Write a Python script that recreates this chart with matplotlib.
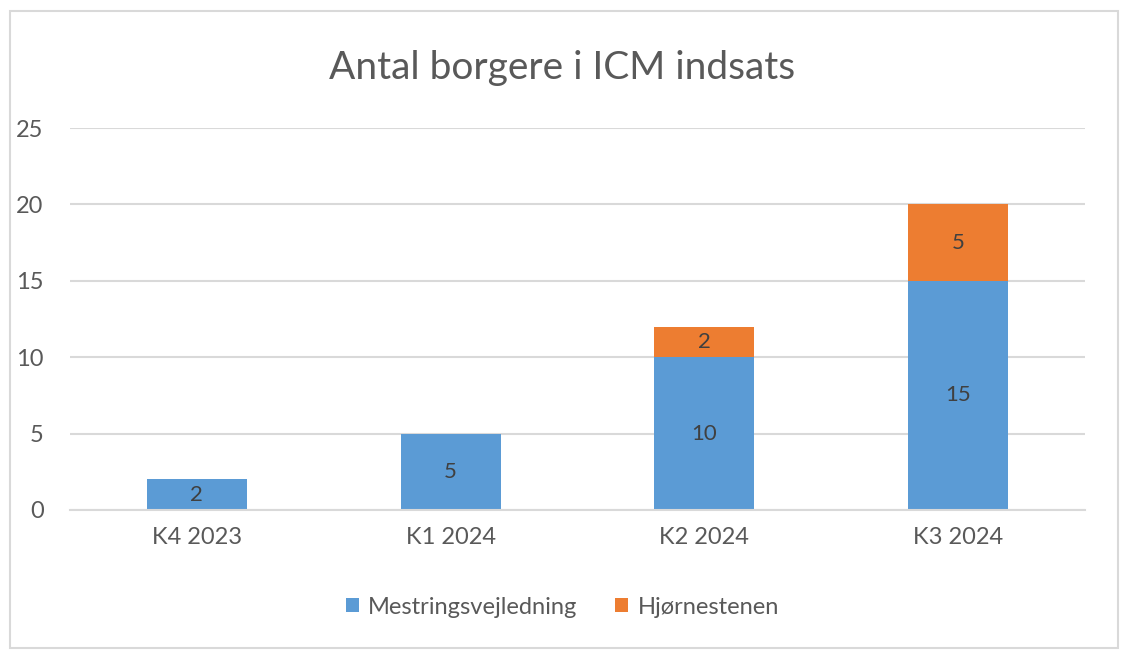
import numpy as np
import matplotlib.pyplot as plt
from matplotlib.patches import Rectangle

categories = ['K4 2023', 'K1 2024', 'K2 2024', 'K3 2024']
mestring = [2, 5, 10, 15]
hjorne = [0, 0, 2, 5]
series_names = ['Mestringsvejledning', 'Hjørnestenen']
title = 'Antal borgere i ICM indsats'

blue = '#5B9BD5'
orange = '#ED7D31'
txt = '#595959'

plt.rcParams['font.family'] = ['Lato', 'DejaVu Sans']

fig = plt.figure(figsize=(11.25, 6.52), dpi=100)
ax = fig.add_axes([70/1125, 1-510/652, 1015/1125, 382/652])

x = np.arange(len(categories))
w = 0.395
b1 = ax.bar(x, mestring, w, color=blue, label=series_names[0], zorder=2)
b2 = ax.bar(x, hjorne, w, bottom=mestring, color=orange, label=series_names[1], zorder=2)

for i, v in enumerate(mestring):
    if v > 0:
        ax.text(x[i], v/2, str(v), ha='center', va='center', fontsize=16, color='#404040', zorder=3)
for i, v in enumerate(hjorne):
    if v > 0:
        ax.text(x[i], mestring[i] + v/2, str(v), ha='center', va='center', fontsize=16, color='#404040', zorder=3)

ax.set_xlim(-0.5, len(categories) - 0.5)
ax.set_ylim(0, 25)
ax.set_yticks(range(0, 26, 5))
ax.set_xticks(x)
ax.set_xticklabels(categories)
ax.tick_params(axis='both', length=0, labelsize=17, labelcolor=txt)
ax.tick_params(axis='y', pad=19)
ax.tick_params(axis='x', pad=12)
ax.yaxis.grid(True, color='#D9D9D9', lw=1.5, zorder=0)
for s in ['top', 'right', 'left']:
    ax.spines[s].set_visible(False)
ax.spines['bottom'].set_color('#D9D9D9')
ax.spines['bottom'].set_linewidth(1.5)

fig.text(0.5, 1-68/652, title, ha='center', va='center', fontsize=28, color=txt)

fig.legend(handles=[b1, b2], loc='center', bbox_to_anchor=(0.5, 1-607/652), ncol=2,
           frameon=False, fontsize=17, labelcolor=txt, handlelength=0.55, handleheight=0.55,
           handletextpad=0.4, columnspacing=1.6)

fig.patches.append(Rectangle((10/1125, 4/652), 1108/1125, 637/652, transform=fig.transFigure,
                             fill=False, edgecolor='#D9D9D9', lw=1.5))

fig.savefig('out.png', dpi=100)
